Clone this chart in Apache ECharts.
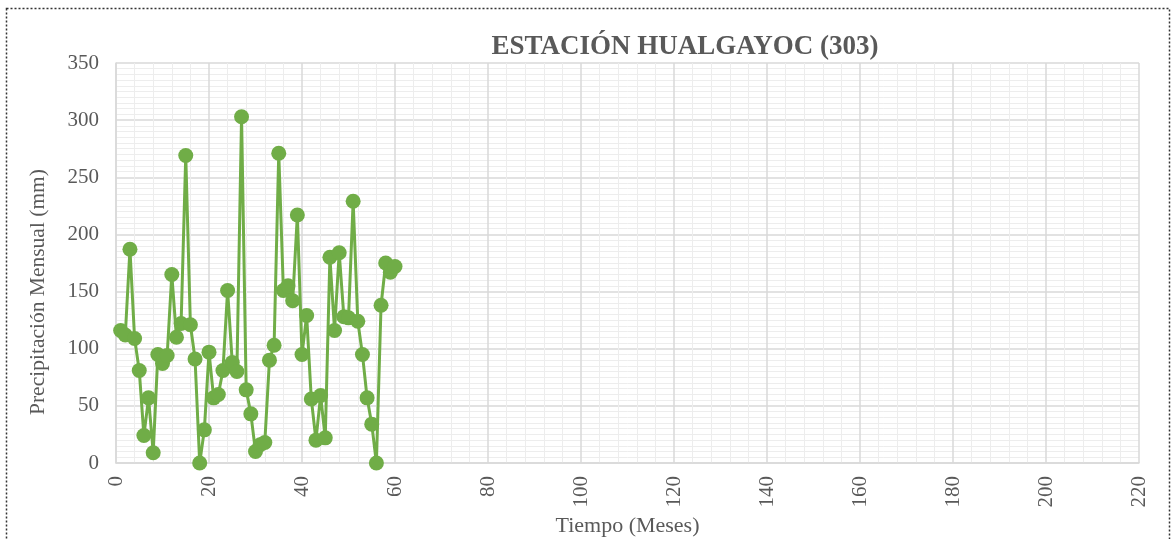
<!DOCTYPE html>
<html>
<head>
<meta charset="utf-8">
<script src="https://cdn.jsdelivr.net/npm/echarts@6/dist/echarts.min.js"></script>
<style>
  html, body { margin: 0; padding: 0; background: #fff; }
  #chart { width: 1176px; height: 539px; }
</style>
</head>
<body>
<div id="chart"></div>
<script>
// Monthly precipitation, station Hualgayoc (303)
const months = [
  1, 2, 3, 4, 5, 6, 7, 8, 9, 10,
  11, 12, 13, 14, 15, 16, 17, 18, 19, 20,
  21, 22, 23, 24, 25, 26, 27, 28, 29, 30,
  31, 32, 33, 34, 35, 36, 37, 38, 39, 40,
  41, 42, 43, 44, 45, 46, 47, 48, 49, 50,
  51, 52, 53, 54, 55, 56, 57, 58, 59, 60
];
const precipitation = [
  116, 112, 187, 109, 81, 24, 57, 9, 95, 87,
  94, 165, 110, 122, 269, 121, 91, 0, 29, 97,
  57, 60, 81, 151, 88, 80, 303, 64, 43, 10,
  16, 18, 90, 103, 271, 151, 155, 142, 217, 95,
  129, 56, 20, 59, 22, 180, 116, 184, 128, 127,
  229, 124, 95, 57, 34, 0, 138, 175, 167, 172
];
const xTicks = { min: 0, max: 220, step: 20 };
const yTicks = { min: 0, max: 350, step: 50 };

const points = months.map((m, i) => [m, precipitation[i]]);

const serif = '"Liberation Serif", "DejaVu Serif", serif';
const textGray = '#595959';
const chart = echarts.init(document.getElementById('chart'));
chart.setOption({
  backgroundColor: '#ffffff',
  animation: false,
  title: {
    text: 'ESTACIÓN HUALGAYOC (303)',
    left: 680,
    top: 29,
    textAlign: 'center',
    textStyle: { fontFamily: serif, fontSize: 27, fontWeight: 'bold', color: textGray }
  },
  graphic: [
    {
      // dotted chart-area frame
      type: 'rect',
      shape: { x: 6.5, y: 8.5, width: 1163, height: 560 },
      style: { fill: 'none', stroke: '#333', lineWidth: 1.5, lineDash: [2, 2] },
      silent: true
    },
    {
      // vertical axis title
      type: 'text',
      x: 38.5,
      y: 292,
      rotation: Math.PI / 2,
      style: {
        text: 'Precipitación Mensual (mm)',
        fontFamily: serif,
        fontSize: 21.5,
        fill: textGray,
        align: 'center',
        verticalAlign: 'middle'
      },
      silent: true
    }
  ],
  grid: {
    left: 116, right: 37, top: 63, bottom: 76,
    containLabel: false,
    outerBoundsMode: 'none'
  },
  xAxis: {
    type: 'value',
    min: xTicks.min, max: xTicks.max, interval: xTicks.step,
    name: 'Tiempo (Meses)',
    nameLocation: 'middle',
    nameGap: 49,
    nameTextStyle: { fontFamily: serif, fontSize: 22, color: textGray },
    axisLine: { show: true, lineStyle: { color: '#D9D9D9', width: 1.5 } },
    axisTick: { show: false },
    axisLabel: { rotate: 90, fontFamily: serif, fontSize: 21, color: textGray, margin: 13 },
    splitLine: { show: true, lineStyle: { color: '#D9D9D9', width: 1.5 } },
    minorTick: { show: false, splitNumber: 5 },
    minorSplitLine: { show: true, lineStyle: { color: '#EDEDED', width: 1 } }
  },
  yAxis: {
    type: 'value',
    min: yTicks.min, max: yTicks.max, interval: yTicks.step,
    axisLine: { show: true, lineStyle: { color: '#D9D9D9', width: 1.5 } },
    axisTick: { show: false },
    axisLabel: { fontFamily: serif, fontSize: 21, color: textGray, margin: 17 },
    splitLine: { show: true, lineStyle: { color: '#D9D9D9', width: 1.5 } },
    minorTick: { show: false, splitNumber: 10 },
    minorSplitLine: { show: true, lineStyle: { color: '#EDEDED', width: 1 } }
  },
  series: [{
    type: 'line',
    data: points,
    symbol: 'circle',
    symbolSize: 15,
    lineStyle: { color: '#70AD47', width: 3 },
    itemStyle: { color: '#70AD47' },
    clip: false
  }]
});
</script>
</body>
</html>
